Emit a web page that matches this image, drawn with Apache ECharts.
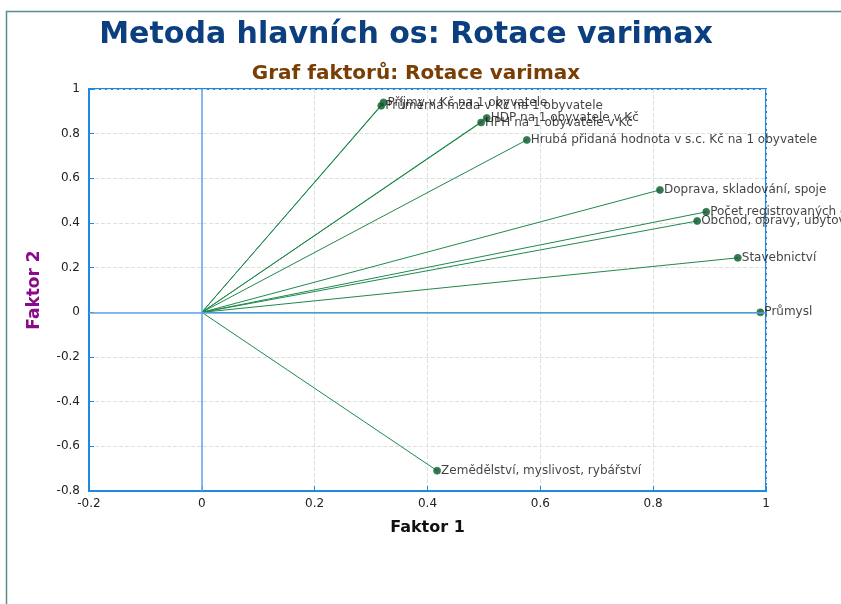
<!DOCTYPE html>
<html>
<head>
<meta charset="utf-8">
<script src="https://cdn.jsdelivr.net/npm/echarts@6/dist/echarts.min.js"></script>
<style>
  html, body { margin: 0; padding: 0; background: #ffffff; }
  #chart { width: 841px; height: 604px; }
</style>
</head>
<body>
<div id="chart"></div>
<script>
// Loadings of the variables on the first two rotated factors
const variables = [
  'Průmysl',
  'Stavebnictví',
  'Doprava, skladování, spoje',
  'Počet registrovaných ekonomických subjektů',
  'Obchod, opravy, ubytování a pohostinství',
  'Hrubá přidaná hodnota v s.c. Kč na 1 obyvatele',
  'HDP na 1 obyvatele v Kč',
  'HPH na 1 obyvatele v Kč',
  'Příjmy v Kč na 1 obyvatele',
  'Průměrná mzda v Kč na 1 obyvatele',
  'Zemědělství, myslivost, rybářství'
];
const factor1 = [0.99, 0.95, 0.812, 0.894, 0.878, 0.576, 0.505, 0.495, 0.322, 0.318, 0.417];
const factor2 = [0.0, 0.244, 0.548, 0.45, 0.409, 0.772, 0.87, 0.85, 0.94, 0.925, -0.709];

const xTicks = { min: -0.2, max: 1, step: 0.2 };
const yTicks = { min: -0.8, max: 1, step: 0.2 };

const FONT = '"DejaVu Sans", Verdana, sans-serif';
const BLUE = '#1e88e5';

const points = variables.map((name, i) => ({ name, value: [factor1[i], factor2[i]] }));
const vectors = variables.map((name, i) => ({ coords: [[0, 0], [factor1[i], factor2[i]]] }));

const chart = echarts.init(document.getElementById('chart'), null, { renderer: 'canvas' });
chart.setOption({
  backgroundColor: '#ffffff',
  animation: false,
  textStyle: { fontFamily: FONT },
  title: [
    {
      text: 'Metoda hlavních os: Rotace varimax',
      left: 401, top: 15, textAlign: 'center',
      textStyle: { fontFamily: FONT, fontSize: 30, fontWeight: 'bold', color: '#0b3f7f' }
    },
    {
      text: 'Graf faktorů: Rotace varimax',
      left: 411, top: 59, textAlign: 'center',
      textStyle: { fontFamily: FONT, fontSize: 20, fontWeight: 'bold', color: '#7a3e04' }
    }
  ],
  graphic: [
    {
      type: 'rect', left: 4, top: 9, silent: true, z: -1,
      shape: { width: 900, height: 700 },
      style: { fill: 'none', stroke: '#5b8d8d', lineWidth: 1.5 }
    }
  ],
  grid: {
    left: 89, top: 89, right: 75, bottom: 113,
    show: true, borderColor: BLUE, borderWidth: 2, backgroundColor: 'transparent'
  },
  xAxis: {
    type: 'value',
    min: xTicks.min, max: xTicks.max, interval: xTicks.step,
    name: 'Faktor 1', nameLocation: 'middle', nameGap: 29,
    nameTextStyle: { fontFamily: FONT, fontSize: 16, fontWeight: 'bold', color: '#111111' },
    axisLine: { show: true, onZero: false, lineStyle: { color: BLUE, width: 2 } },
    axisTick: { show: true, inside: true, length: 5, lineStyle: { color: BLUE } },
    axisLabel: {
      fontFamily: FONT, fontSize: 12, color: '#222222', margin: 7,
      formatter: v => String(+v.toFixed(1))
    },
    splitLine: { show: true, lineStyle: { color: '#dedede', type: 'dashed', width: 1 } }
  },
  yAxis: {
    type: 'value',
    min: yTicks.min, max: yTicks.max, interval: yTicks.step,
    name: 'Faktor 2', nameLocation: 'middle', nameGap: 46,
    nameTextStyle: { fontFamily: FONT, fontSize: 17, fontWeight: 'bold', color: '#8b0a8b' },
    axisLine: { show: true, onZero: false, lineStyle: { color: BLUE, width: 2 } },
    axisTick: { show: true, inside: true, length: 5, lineStyle: { color: BLUE } },
    axisLabel: {
      fontFamily: FONT, fontSize: 12, color: '#222222', margin: 9,
      formatter: v => String(+v.toFixed(1))
    },
    splitLine: { show: true, lineStyle: { color: '#dedede', type: 'dashed', width: 1 } }
  },
  series: [
    {
      type: 'lines',
      coordinateSystem: 'cartesian2d',
      silent: true,
      z: 2,
      lineStyle: { color: '#1f8a4c', width: 1, opacity: 1 },
      data: vectors,
      markLine: {
        silent: true,
        symbol: 'none',
        label: { show: false },
        lineStyle: { color: '#5ea4ec', width: 1.5, type: 'solid' },
        data: [{ xAxis: 0 }, { yAxis: 0 }]
      }
    },
    {
      type: 'scatter',
      z: 3,
      symbol: 'circle',
      symbolSize: 7,
      itemStyle: { color: '#0f4d2a', borderColor: '#1f8a4c', borderWidth: 1 },
      label: {
        show: true,
        position: 'right',
        distance: 0,
        formatter: p => p.name,
        fontFamily: FONT,
        fontSize: 12,
        color: '#111111'
      },
      data: points
    }
  ]
});
</script>
</body>
</html>
